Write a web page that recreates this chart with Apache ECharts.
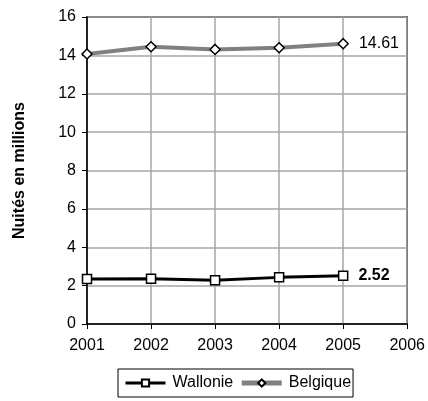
<!DOCTYPE html>
<html>
<head>
<meta charset="utf-8">
<script src="https://cdn.jsdelivr.net/npm/echarts@6/dist/echarts.min.js"></script>
<style>
  html, body { margin: 0; padding: 0; background: #fff; }
  #chart { width: 428px; height: 401px; }
</style>
</head>
<body>
<div id="chart"></div>
<script>
// Nights spent (millions), per year
const years = [2001, 2002, 2003, 2004, 2005];
const wallonie = [2.34, 2.36, 2.28, 2.43, 2.52];
const belgique = [14.07, 14.45, 14.31, 14.40, 14.61];

const FONT = '"Liberation Sans", Arial, sans-serif';

// Points as [year, value]; the last point carries its value label
function buildData(values, labelStyle) {
  return years.map((y, i) => {
    const item = { value: [y, values[i]] };
    if (i === years.length - 1) {
      item.label = Object.assign({
        show: true,
        position: 'right',
        distance: 10,
        formatter: String(values[i]),
        fontFamily: FONT,
        fontSize: 16,
        color: '#000'
      }, labelStyle);
    }
    return item;
  });
}

const chart = echarts.init(document.getElementById('chart'), null, { renderer: 'canvas' });
chart.setOption({
  animation: false,
  backgroundColor: '#fff',
  textStyle: { fontFamily: FONT },
  grid: {
    left: 87, right: 20, top: 17, bottom: 77,
    show: true, borderColor: '#000', borderWidth: 1.5, containLabel: false
  },
  xAxis: {
    type: 'value', min: 2001, max: 2006, interval: 1,
    axisLine: { show: true, onZero: false, lineStyle: { color: '#000', width: 1.5 } },
    axisTick: { show: true, length: 5, lineStyle: { color: '#000' } },
    axisLabel: { color: '#000', fontSize: 16, fontFamily: FONT, margin: 14, formatter: v => String(v) },
    splitLine: { show: true, lineStyle: { color: '#a6a6a6', width: 1.5 } }
  },
  yAxis: {
    type: 'value', min: 0, max: 16, interval: 2,
    name: 'Nuités en millions',
    nameLocation: 'middle', nameGap: 59, nameRotate: 90,
    nameTextStyle: { fontWeight: 'bold', fontSize: 16, fontFamily: FONT, color: '#000' },
    axisLine: { show: true, onZero: false, lineStyle: { color: '#000', width: 1.5 } },
    axisTick: { show: true, length: 5, lineStyle: { color: '#000' } },
    axisLabel: { color: '#000', fontSize: 16, fontFamily: FONT, margin: 11 },
    splitLine: { show: true, lineStyle: { color: '#a6a6a6', width: 1.5 } }
  },
  legend: {
    left: 118, top: 369,
    padding: [6, 2, 6, 6],
    itemGap: 6,
    itemWidth: 40, itemHeight: 9,
    borderColor: '#000', borderWidth: 1, borderRadius: 0,
    backgroundColor: '#fff',
    textStyle: { fontSize: 16, fontFamily: FONT, color: '#000', padding: [0, 0, 0, 2] },
    data: [
      { name: 'Wallonie', lineStyle: { width: 3, color: '#000' } },
      { name: 'Belgique', lineStyle: { width: 5, color: '#808080' } }
    ]
  },
  series: [
    {
      name: 'Wallonie', type: 'line',
      data: buildData(wallonie, { fontWeight: 'bold' }),
      symbol: 'rect', symbolSize: 9, showAllSymbol: true,
      lineStyle: { color: '#000', width: 3 },
      itemStyle: { color: '#fff', borderColor: '#000', borderWidth: 1.5 },
      z: 3
    },
    {
      name: 'Belgique', type: 'line',
      data: buildData(belgique, {}),
      symbol: 'diamond', symbolSize: 10, showAllSymbol: true,
      lineStyle: { color: '#808080', width: 4 },
      itemStyle: { color: '#fff', borderColor: '#000', borderWidth: 1.5 },
      z: 3
    }
  ]
});
</script>
</body>
</html>
